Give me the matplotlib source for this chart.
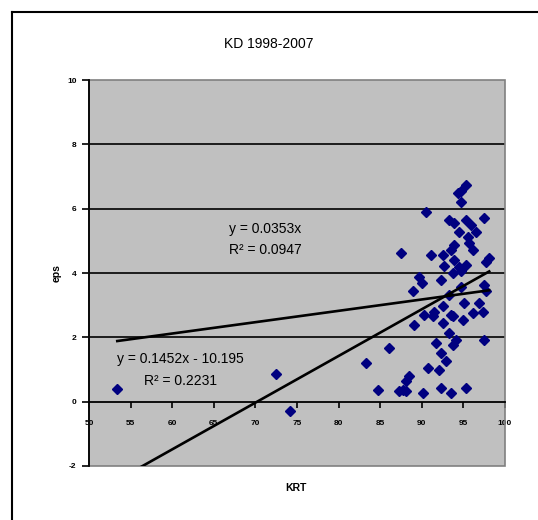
import matplotlib
matplotlib.use("Agg")
import matplotlib.pyplot as plt
from matplotlib.lines import Line2D
from matplotlib.patches import Rectangle
import numpy as np

plt.rcParams['font.family'] = ['Liberation Sans', 'DejaVu Sans']

title = "KD 1998-2007"
x_label = "KRT"
y_label = "eps"

krt = [95.3, 94.7, 94.3, 94.7, 90.5, 97.5, 93.3, 93.9, 95.3, 95.9, 94.5, 96.5, 95.5,
       93.9, 95.7, 87.5, 91.1, 92.5, 93.5, 96.1, 98.1, 97.7, 93.9, 95.3, 92.7, 94.5,
       93.7, 94.7, 89.7, 90.0, 92.3, 88.9, 97.5, 97.7, 94.7, 93.3, 95.1, 96.9, 92.5,
       91.5, 90.3, 93.5, 96.1, 97.3, 89.1, 91.3, 92.5, 93.7, 94.9, 93.3, 94.1, 97.5,
       91.7, 93.7, 92.3, 92.9, 90.7, 92.1, 88.5, 88.1, 87.7, 90.1, 92.3, 93.5, 95.3,
       86.1, 83.3, 84.7, 87.3, 88.1, 72.45, 74.2, 53.4]
eps = [6.74, 6.56, 6.48, 6.2, 5.89, 5.7, 5.65, 5.55, 5.65, 5.5, 5.29, 5.29, 5.13,
       4.88, 4.93, 4.62, 4.55, 4.57, 4.72, 4.72, 4.48, 4.34, 4.4, 4.25, 4.22, 4.2,
       4.0, 4.05, 3.89, 3.7, 3.77, 3.43, 3.63, 3.43, 3.58, 3.32, 3.07, 3.07, 2.96,
       2.8, 2.7, 2.7, 2.75, 2.8, 2.39, 2.65, 2.44, 2.65, 2.55, 2.13, 1.93, 1.93,
       1.82, 1.77, 1.51, 1.25, 1.05, 1.0, 0.79, 0.63, 0.37, 0.27, 0.43, 0.27, 0.43,
       1.67, 1.2, 0.37, 0.32, 0.32, 0.87, -0.3, 0.4]

# trendlines: (slope, intercept)
trend_slopes = [0.0353, 0.1452]
trend_intercepts = [0.0, -10.195]
trend_eq = ["y = 0.0353x", "y = 0.1452x - 10.195"]
trend_r2 = ["R² = 0.0947", "R² = 0.2231"]

x_ticks = [50, 55, 60, 65, 70, 75, 80, 85, 90, 95, 100]
y_ticks = [-2, 0, 2, 4, 6, 8, 10]

W, H = 538, 520
fig = plt.figure(figsize=(W / 100, H / 100), dpi=100)
fig.patch.set_facecolor('white')

# outer chart border
fig.add_artist(Line2D([12 / W, 12 / W], [0, 1 - 12 / H], color='black', lw=1.5))
fig.add_artist(Line2D([12 / W, 1], [1 - 12 / H, 1 - 12 / H], color='black', lw=1.5))

ax = fig.add_axes([89 / W, 1 - 466 / H, (505 - 89) / W, (466 - 80) / H])
ax.set_facecolor('#c0c0c0')
ax.set_xlim(50, 100)
ax.set_ylim(-2, 10)
ax.set_axisbelow(True)

for yv in y_ticks[2:-1]:
    ax.axhline(yv, color='black', lw=1.2, zorder=1)

# plot area border (gray)
ax.add_patch(Rectangle((0, 0), 1, 1, transform=ax.transAxes, fill=False,
                       edgecolor='#808080', lw=1.2, zorder=1.5, clip_on=False))

ax.plot(krt, eps, linestyle='none', marker='D', ms=5.2, color='#000080',
        markeredgecolor='#000080', zorder=3)

xmin, xmax = min(krt), max(krt)
xs = np.linspace(xmin, xmax, 200)
for m, b in zip(trend_slopes, trend_intercepts):
    ax.plot(xs, m * xs + b, color='black', lw=1.9, zorder=4)

label_pos = [(71.2, 5.37, 4.72), (61.0, 1.34, 0.63)]
for (cx, y1, y2), eq, r2 in zip(label_pos, trend_eq, trend_r2):
    ax.text(cx, y1, eq, fontsize=10, ha='center', va='center', zorder=5)
    ax.text(cx, y2, r2, fontsize=10, ha='center', va='center', zorder=5)

for s in ['top', 'right']:
    ax.spines[s].set_visible(False)
ax.spines['left'].set_color('black')
ax.spines['left'].set_linewidth(1.3)
ax.spines['bottom'].set_position(('data', 0))
ax.spines['bottom'].set_color('black')
ax.spines['bottom'].set_linewidth(1.3)
ax.spines['bottom'].set_zorder(2)

ax.set_xticks(x_ticks)
ax.set_yticks(y_ticks)
ax.set_xticklabels([str(v) for v in x_ticks])
ax.set_yticklabels([str(v) for v in y_ticks])
ax.tick_params(axis='x', direction='out', length=4, width=1.2, pad=9,
               labelsize=6)
ax.tick_params(axis='y', direction='out', length=5, width=1.2, pad=4,
               labelsize=6)
for lbl in ax.get_xticklabels() + ax.get_yticklabels():
    lbl.set_fontweight('bold')

fig.text(269 / W, 1 - 44 / H, title, ha='center', va='center', fontsize=10)
fig.text(296 / W, 1 - 488 / H, x_label, ha='center', va='center', fontsize=7.5,
         fontweight='bold')
fig.text(57 / W, 1 - 273 / H, y_label, ha='center', va='center', fontsize=7.5,
         fontweight='bold', rotation=90)

fig.savefig("out.png", dpi=100)
